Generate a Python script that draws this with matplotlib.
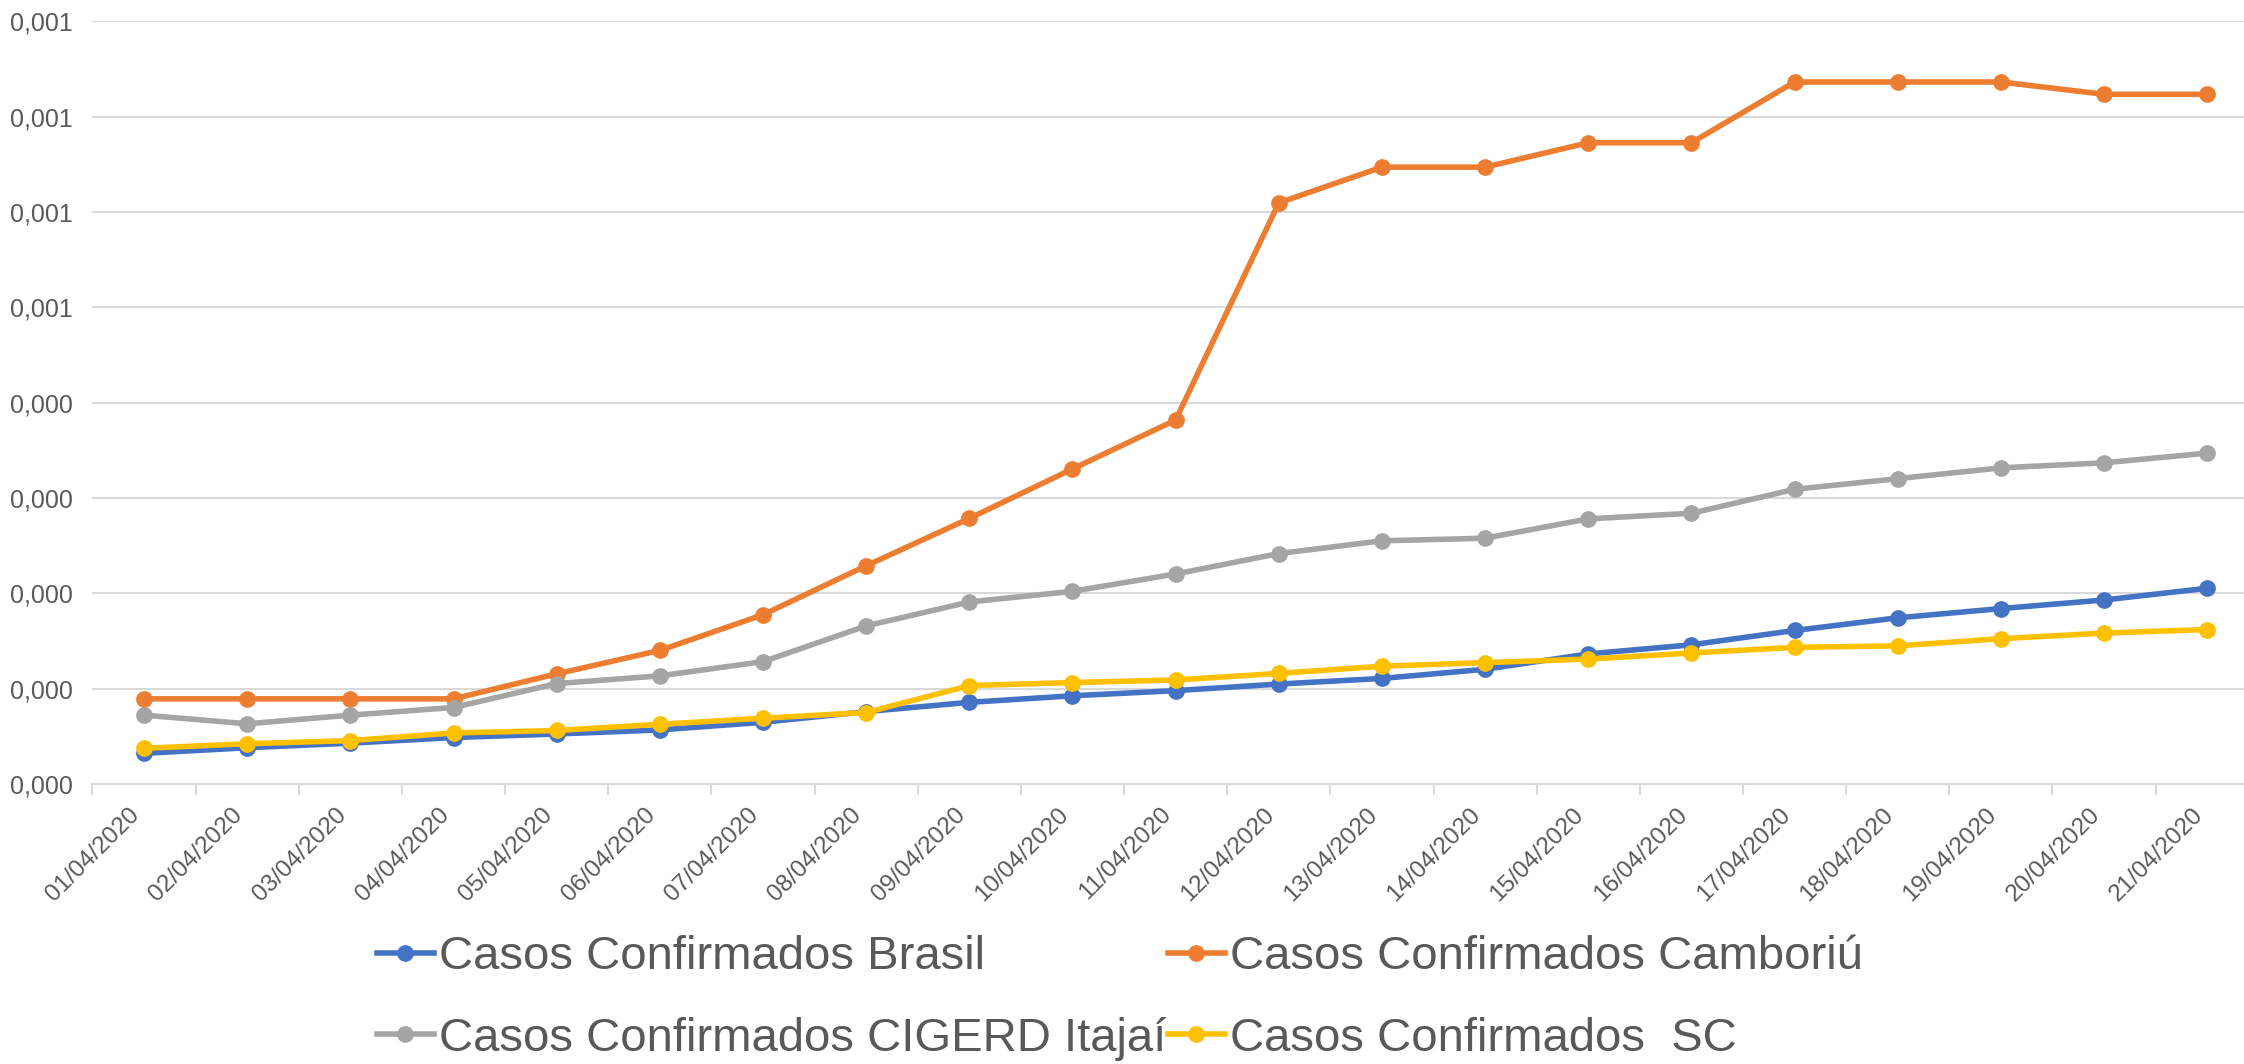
import matplotlib
matplotlib.use("Agg")
import matplotlib.pyplot as plt
from matplotlib import font_manager as fm
import numpy as np

dates = ["01/04/2020", "02/04/2020", "03/04/2020", "04/04/2020", "05/04/2020",
         "06/04/2020", "07/04/2020", "08/04/2020", "09/04/2020", "10/04/2020",
         "11/04/2020", "12/04/2020", "13/04/2020", "14/04/2020", "15/04/2020",
         "16/04/2020", "17/04/2020", "18/04/2020", "19/04/2020", "20/04/2020",
         "21/04/2020"]

brasil = [0.321, 0.380, 0.428, 0.487, 0.524, 0.567, 0.647, 0.759, 0.856, 0.925,
          0.979, 1.048, 1.107, 1.203, 1.364, 1.460, 1.610, 1.743, 1.840, 1.930, 2.053]
camboriu = [0.893, 0.893, 0.893, 0.893, 1.155, 1.401, 1.775, 2.289, 2.786, 3.305,
            3.818, 6.096, 6.471, 6.471, 6.727, 6.727, 7.364, 7.364, 7.364, 7.235, 7.235]
itajai = [0.722, 0.631, 0.722, 0.802, 1.053, 1.134, 1.283, 1.658, 1.909, 2.021,
          2.203, 2.417, 2.551, 2.578, 2.781, 2.840, 3.091, 3.203, 3.316, 3.369, 3.471]
sc = [0.374, 0.422, 0.455, 0.535, 0.561, 0.626, 0.690, 0.749, 1.032, 1.064,
      1.091, 1.160, 1.235, 1.273, 1.310, 1.374, 1.433, 1.449, 1.524, 1.583, 1.620]
scale = 1e-4

y_ticks = [0.0, 0.0001, 0.0002, 0.0003, 0.0004, 0.0005, 0.0006, 0.0007, 0.0008]
y_tick_labels = ["0,000", "0,000", "0,000", "0,000", "0,000", "0,001", "0,001", "0,001", "0,001"]

series_names = ["Casos Confirmados Brasil", "Casos Confirmados Camboriú",
                "Casos Confirmados CIGERD Itajaí", "Casos Confirmados  SC"]
colors = ["#4472C4", "#ED7D31", "#A5A5A5", "#FFC000"]

available = {f.name for f in fm.fontManager.ttflist}
font = "Liberation Sans Narrow" if "Liberation Sans Narrow" in available else "Liberation Sans"
plt.rcParams["font.family"] = [font, "DejaVu Sans"]

fig = plt.figure(figsize=(22.44, 10.64), dpi=100)
ax = fig.add_axes([0.0412, 0.2632, 0.9654, 0.7167])

x = np.arange(len(dates))
handles = []
for vals, name, c in zip([brasil, camboriu, itajai, sc], series_names, colors):
    h, = ax.plot(x, np.array(vals) * scale, color=c, lw=4, marker="o", ms=11,
                 label=name, solid_joinstyle="round")
    handles.append(h)

ax.set_xlim(-0.5, len(dates) - 0.5)
ax.set_ylim(0, 0.0008)
ax.set_yticks(y_ticks)
ax.set_yticklabels(y_tick_labels)
ax.yaxis.grid(True, color="#D9D9D9", lw=1.5)
ax.set_axisbelow(True)
for s in ["left", "right", "top"]:
    ax.spines[s].set_visible(False)
ax.spines["bottom"].set_color("#D9D9D9")
ax.spines["bottom"].set_linewidth(1.5)

ax.set_xticks(x)
ax.set_xticklabels(dates, rotation=45, ha="right", va="top")
ax.set_xticks(np.arange(len(dates) + 1) - 0.5, minor=True)
ax.tick_params(axis="x", which="major", length=0, pad=14, labelsize=17.5, labelcolor="#595959")
ax.tick_params(axis="x", which="minor", length=8, width=1.5, color="#D9D9D9")
ax.tick_params(axis="y", length=0, pad=14, labelsize=18, labelcolor="#595959")

# row-major order: Brasil, Camboriú / CIGERD, SC
order = [0, 2, 1, 3]
leg = fig.legend([handles[i] for i in order], [series_names[i] for i in order],
                 loc="center", bbox_to_anchor=(0.499, 0.062), ncol=2, frameon=False,
                 fontsize=34, handlelength=1.2, handletextpad=0.1, columnspacing=0.05,
                 labelspacing=0.8, borderaxespad=0)
for t in leg.get_texts():
    t.set_color("#595959")

fig.savefig("out.png", dpi=100)
